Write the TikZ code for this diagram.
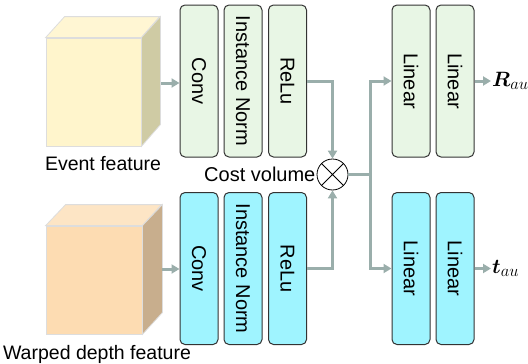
\documentclass[tikz,border=0pt]{standalone}
\usepackage{amsmath,amssymb}
\usepackage{fontspec}
\setmainfont{Liberation Sans}
\usetikzlibrary{arrows.meta,calc}
\newcommand{\subau}{\scalebox{1.15}{$\scriptstyle au$}}
\definecolor{gfill}{HTML}{E8F6E5}
\definecolor{cfill}{HTML}{9FF4FF}
\definecolor{arrc}{HTML}{9AAEAB}
\definecolor{boxline}{HTML}{333333}
\definecolor{yfront}{HTML}{FFF5CC}
\definecolor{ytop}{HTML}{FFF6D3}
\definecolor{yside}{HTML}{CFCBA4}
\definecolor{ofront}{HTML}{FDDCB2}
\definecolor{otop}{HTML}{FDE5C5}
\definecolor{oside}{HTML}{C8AE8D}
\definecolor{cubeedge}{HTML}{DDDDDD}
\tikzset{
  layer/.style={draw=boxline, line width=1pt, rounded corners=5pt, rotate=-90,
    minimum width=152pt, minimum height=38pt, inner sep=0pt,
    font=\fontsize{20}{24}\selectfont},
  glayer/.style={layer, fill=gfill},
  clayer/.style={layer, fill=cfill},
  arr/.style={draw=arrc, line width=3pt, -{Triangle[length=8pt,width=9pt]}},
  plainline/.style={draw=arrc, line width=3pt},
  lbl/.style={font=\fontsize{19.5}{23}\selectfont, inner sep=0pt, anchor=base},
  outlbl/.style={font=\fontsize{20}{24}\selectfont, inner sep=1pt, anchor=west},
  cubeface/.style={draw=cubeedge, line width=0.8pt}
}
\begin{document}
\begin{tikzpicture}[x=1pt,y=-1pt]
\useasboundingbox (0,0) rectangle (528,364);
% top cube
\node[cubeface, fill=yfront, minimum width=95pt, minimum height=108pt, inner sep=0pt] (cubeA) at (93.5,92) {};
\draw[cubeface, fill=ytop] (cubeA.north west) -- ++(19,-21) -- ++(95,0) -- (cubeA.north east) -- cycle;
\draw[cubeface, fill=yside] (cubeA.north east) -- ++(19,-21) -- ++(0,108) -- (cubeA.south east) -- cycle;
\coordinate (cubeAout) at (161,83);
% bottom cube
\node[cubeface, fill=ofront, minimum width=96pt, minimum height=108pt, inner sep=0pt] (cubeB) at (94,280) {};
\draw[cubeface, fill=otop] (cubeB.north west) -- ++(20,-21) -- ++(96,0) -- (cubeB.north east) -- cycle;
\draw[cubeface, fill=oside] (cubeB.north east) -- ++(20,-21) -- ++(0,108) -- (cubeB.south east) -- cycle;
\coordinate (cubeBout) at (162,269);
% labels
\node[lbl] (evlbl) at (103,170) {Event feature};
\node[lbl] (wdlbl) at (97,359) {Warped depth feature};
% layers top
\node[glayer] (conv1) at (199,81) {Conv};
\node[glayer] (in1) at (243,81) {Instance Norm};
\node[glayer] (relu1) at (287.5,81) {ReLu};
\node[glayer] (lin1a) at (411,81) {Linear};
\node[glayer] (lin1b) at (455,81) {Linear};
% layers bottom
\node[clayer] (conv2) at (199,268.5) {Conv};
\node[clayer] (in2) at (243,268.5) {Instance Norm};
\node[clayer] (relu2) at (287.5,268.5) {ReLu};
\node[clayer] (lin2a) at (411,268.5) {Linear};
\node[clayer] (lin2b) at (455,268.5) {Linear};
% cost volume
\node[draw=black, line width=0.8pt, circle, minimum size=31pt, inner sep=0pt] (cv) at (332.5,174.5) {};
\draw[black, line width=0.8pt] (cv.north west) -- (cv.south east) (cv.north east) -- (cv.south west);
\node[font=\fontsize{20}{24}\selectfont, inner sep=0pt, anchor=east] (cvlbl) at ([xshift=-1pt]cv.west) {Cost volume};
\coordinate (split) at (370,174.5);
% outputs
\node[outlbl] (R) at (491,81) {$\boldsymbol{R}_{\subau}$};
\node[outlbl] (t) at (491,268.5) {$\boldsymbol{t}_{\subau}$};
% connectors
\draw[arr] (cubeAout) -- (cubeAout -| conv1.south);
\draw[arr] (cubeBout) -- (cubeBout -| conv2.south);
\draw[arr] (relu1.north) -| (cv.north);
\draw[arr] (relu2.north) -| (cv.south);
\draw[plainline] (cv.east) -- (split);
\draw[arr] (split) |- (lin1a.south);
\draw[arr] (split) |- (lin2a.south);
\draw[arr] (lin1b.north) -- (R.west);
\draw[arr] (lin2b.north) -- (t.west);
\end{tikzpicture}
\end{document}
